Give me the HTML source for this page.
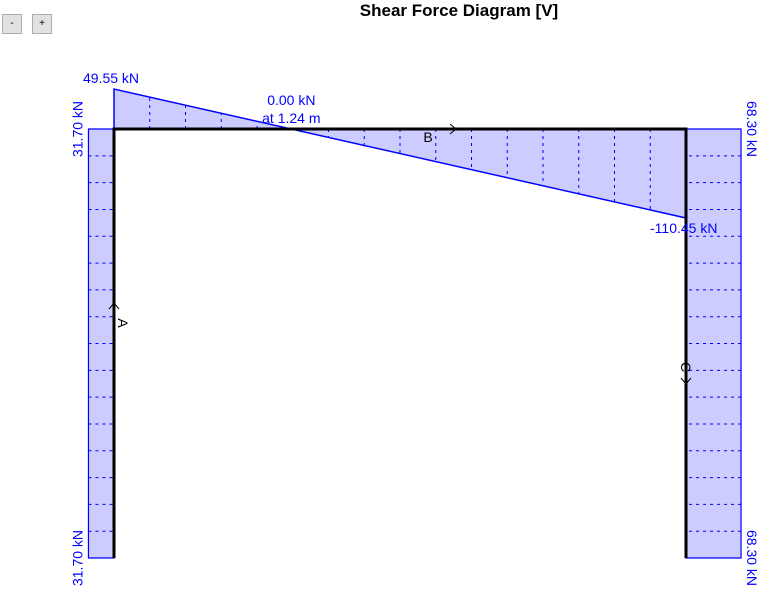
<!DOCTYPE html>
<html><head><meta charset="utf-8"><style>
body{margin:0;background:#fff;width:775px;height:592px;overflow:hidden;font-family:"Liberation Sans",sans-serif;}
.btn{position:absolute;top:14px;width:20px;height:20px;background:#e1e1e1;border:1px solid #adadad;box-sizing:border-box;font-size:10px;text-align:center;line-height:18px;}
</style></head><body>
<div class="btn" style="left:2px">-</div>
<div class="btn" style="left:32px">+</div>
<svg id="c" width="775" height="592" style="position:absolute;left:0;top:0">
<text x="459" y="16" text-anchor="middle" font-size="17" font-weight="bold" fill="#000">Shear Force Diagram [V]</text>
</svg>
<script>
const colShearLeft = [31.70, 31.70];
const colShearRight = [68.30, 68.30];
const beamShear = [49.55, -110.45];
const beamLength = 4.0;
const zeroAt = 1.24;
const divisions = 16;

const svg = document.getElementById('c');
const NS = 'http://www.w3.org/2000/svg';
const X0 = 114, X1 = 686, YT = 129, YB = 558, K = 0.806;
const fill = '#ccccff', blue = '#0000ff';
function mk(tag, attrs){const e=document.createElementNS(NS,tag);for(const k in attrs)e.setAttribute(k,attrs[k]);svg.appendChild(e);return e;}
const bx = s => X0 + s / beamLength * (X1 - X0);
const by = v => YT - v * K;

const vAt = s => beamShear[0] + (beamShear[1]-beamShear[0]) * s / beamLength;
let p = mk('polygon',{points:`${X0},${YT} ${X0},${by(beamShear[0])} ${X1},${by(beamShear[1])} ${X1},${YT}`,fill:fill,stroke:'none'});


for(let i=1;i<divisions;i++){const s=beamLength*i/divisions;const l=mk('line',{x1:bx(s),x2:bx(s),y1:YT,y2:by(vAt(s)),stroke:blue,'stroke-dasharray':'3,4','stroke-width':1});

}
let bl = mk('polyline',{points:`${X0},${YT} ${X0},${by(beamShear[0])} ${X1},${by(beamShear[1])} ${X1},${YT}`,fill:'none',stroke:blue,'stroke-width':1.5});



function column(xs, vals, dir, name){
  const ys = v => xs + dir * v * K;
  const pts = `${xs},${YT} ${ys(vals[0])},${YT} ${ys(vals[1])},${YB} ${xs},${YB}`;
  const a = mk('polygon',{points:pts,fill:fill,stroke:blue,'stroke-width':1.2});
  
  
  for(let i=1;i<divisions;i++){const y=YT+(YB-YT)*i/divisions;const v=vals[0]+(vals[1]-vals[0])*i/divisions;
    const l=mk('line',{x1:ys(v),x2:xs,y1:y,y2:y,stroke:blue,'stroke-dasharray':'3,4','stroke-width':1});
    
    }
  return ys;
}
const lx = column(X0, colShearLeft, -1, 'left-column');
const rx = column(X1, colShearRight, 1, 'right-column');

let f = mk('polyline',{points:`${X0},${YB} ${X0},${YT} ${X1},${YT} ${X1},${YB}`,fill:'none',stroke:'#000','stroke-width':3});



function txt(x,y,s,attrs,name){const t=mk('text',Object.assign({x:x,y:y,'font-size':14,fill:blue},attrs||{}));t.textContent=s;
  
  return t;}
txt(X0-31, by(beamShear[0])-6, beamShear[0].toFixed(2)+' kN', {}, 'beam-start-value-label');
txt(bx(zeroAt), YT-24, '0.00 kN', {'text-anchor':'middle'}, 'zero-value-label');
txt(bx(zeroAt), YT-6, 'at '+zeroAt.toFixed(2)+' m', {'text-anchor':'middle'}, 'zero-position-label');
txt(X1-36, by(beamShear[1])+15, beamShear[1].toFixed(2)+' kN', {}, 'beam-end-value-label');
txt(0,0, colShearLeft[0].toFixed(2)+' kN', {transform:`translate(${lx(colShearLeft[0])-6},${YT}) rotate(-90)`,'text-anchor':'middle'}, 'left-top-value-label');
txt(0,0, colShearLeft[1].toFixed(2)+' kN', {transform:`translate(${lx(colShearLeft[1])-6},${YB}) rotate(-90)`,'text-anchor':'middle'}, 'left-bottom-value-label');
txt(0,0, colShearRight[0].toFixed(2)+' kN', {transform:`translate(${rx(colShearRight[0])+6},${YT}) rotate(90)`,'text-anchor':'middle'}, 'right-top-value-label');
txt(0,0, colShearRight[1].toFixed(2)+' kN', {transform:`translate(${rx(colShearRight[1])+6},${YB}) rotate(90)`,'text-anchor':'middle'}, 'right-bottom-value-label');

function lab(x,y,s,rot,name){const t=mk('text',{x:0,y:0,'font-size':14,fill:'#000',transform:`translate(${x},${y}) rotate(${rot})`,'text-anchor':'middle'});t.textContent=s;
  
  }
lab(118,323,'A',90,'member-a-label');
lab(428,142,'B',0,'member-b-label');
lab(681,367,'C',90,'member-c-label');
function arrow(pts,name){const a=mk('polyline',{points:pts,fill:'none',stroke:'#000','stroke-width':1});
  
  }
arrow('109,309 114,303 119,309','member-a-arrow');
arrow('450,124 456,129 450,134','member-b-arrow');
arrow('681,378 686,384 691,378','member-c-arrow');
</script>
</body></html>
